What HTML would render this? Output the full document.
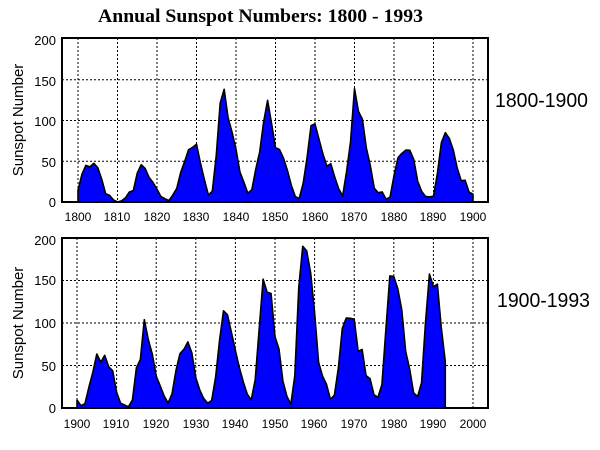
<!DOCTYPE html>
<html><head><style>
html,body{margin:0;padding:0;background:#fff;}
svg{display:block;}
</style></head><body>
<svg id="s" width="600" height="450" xmlns="http://www.w3.org/2000/svg" font-family="Liberation Sans, sans-serif">
<text x="98" y="22" font-family="Liberation Serif, serif" font-weight="bold" font-size="19" textLength="325" lengthAdjust="spacingAndGlyphs">Annual Sunspot Numbers: 1800 - 1993</text>
<text x="495" y="107" font-size="20" textLength="93" lengthAdjust="spacingAndGlyphs">1800-1900</text>
<text x="497" y="307" font-size="20" textLength="93" lengthAdjust="spacingAndGlyphs">1900-1993</text>
<g font-size="13" text-anchor="end">
<text x="56" y="45">200</text><text x="56" y="86">150</text><text x="56" y="126">100</text><text x="56" y="167">50</text><text x="56" y="207">0</text>
<text x="56" y="245">200</text><text x="56" y="285">150</text><text x="56" y="328">100</text><text x="56" y="371">50</text><text x="56" y="413">0</text>
</g>
<g font-size="12" text-anchor="middle">
<text x="78" y="221">1800</text><text x="117" y="221">1810</text><text x="157" y="221">1820</text><text x="196" y="221">1830</text><text x="236" y="221">1840</text><text x="275" y="221">1850</text><text x="315" y="221">1860</text><text x="354" y="221">1870</text><text x="394" y="221">1880</text><text x="433" y="221">1890</text><text x="473" y="221">1900</text>
<text x="77" y="428">1900</text><text x="116" y="428">1910</text><text x="156" y="428">1920</text><text x="196" y="428">1930</text><text x="235" y="428">1940</text><text x="275" y="428">1950</text><text x="314" y="428">1960</text><text x="354" y="428">1970</text><text x="394" y="428">1980</text><text x="433" y="428">1990</text><text x="473" y="428">2000</text>
</g>
<text transform="translate(23,120) rotate(-90)" font-size="15" text-anchor="middle">Sunspot Number</text>
<text transform="translate(23,323) rotate(-90)" font-size="15" text-anchor="middle">Sunspot Number</text>
<g id="g"></g>
</svg>
<script>
var d=[14.5,34.0,45.0,43.1,47.5,42.2,28.1,10.1,8.1,2.5,0.0,1.4,5.0,12.2,13.9,35.4,45.8,41.1,30.1,23.9,15.6,6.6,4.0,1.8,8.5,16.6,36.3,49.6,64.2,67.0,70.9,47.8,27.5,8.5,13.2,56.9,121.5,138.3,103.2,85.7,64.6,36.7,24.2,10.7,15.0,40.1,61.5,98.5,124.7,96.3,66.6,64.5,54.1,39.0,20.6,6.7,4.3,22.7,54.8,93.8,95.8,77.2,59.1,44.0,47.0,30.5,16.3,7.3,37.6,74.0,139.0,111.2,101.6,66.2,44.7,17.0,11.3,12.4,3.4,6.0,32.3,54.3,59.7,63.7,63.5,52.2,25.4,13.1,6.8,6.3,7.1,35.6,73.0,85.1,78.0,64.0,41.8,26.2,26.7,12.1,9.5,2.7,5.0,24.4,42.0,63.5,53.8,62.0,48.5,43.9,18.6,5.7,3.6,1.4,9.6,47.4,57.1,103.9,80.6,63.6,37.6,26.1,14.2,5.8,16.7,44.3,63.9,69.0,77.8,64.9,35.7,21.2,11.1,5.7,8.7,36.1,79.7,114.4,109.6,88.8,67.8,47.5,30.6,16.3,9.6,33.2,92.6,151.6,136.3,134.7,83.9,69.4,31.5,13.9,4.4,38.0,141.7,190.2,184.8,159.0,112.3,53.9,37.5,27.9,10.2,15.1,47.0,93.8,105.9,105.5,104.5,66.6,68.9,38.0,34.5,15.5,12.6,27.5,92.5,155.4,154.6,140.4,115.9,66.6,45.9,17.9,13.4,29.4,100.2,157.6,142.6,145.7,94.3,54.6];
var h='';
function panel(L,T,R,B,x0,dx,y0,sy,ys,y1){
  // grid
  for(var k=0;k<=10;k++){var x=x0+k*dx;h+='<line x1="'+x+'" y1="'+T+'" x2="'+x+'" y2="'+B+'" stroke="#000" stroke-width="1" stroke-dasharray="2,2"/>';}
  for(var v=50;v<200;v+=50){var y=y0-v*sy;h+='<line x1="'+L+'" y1="'+y+'" x2="'+R+'" y2="'+y+'" stroke="#000" stroke-width="1" stroke-dasharray="2,2"/>';}
  var p=[];var xs=x0;p.push(xs+','+y0);
  for(var yr=ys;yr<=y1;yr++){p.push((x0+(yr-ys)*dx/10)+','+(y0-d[yr-1800]*sy));}
  p.push((x0+(y1-ys)*dx/10)+','+y0);
  h+='<polygon points="'+p.join(' ')+'" fill="#0000ff" stroke="#000" stroke-width="1.6" stroke-linejoin="round"/>';
  h+='<rect x="'+L+'" y="'+T+'" width="'+(R-L)+'" height="'+(B-T)+'" fill="none" stroke="#000" stroke-width="2"/>';
}
panel(62,38,488,202,78,39.5,202,0.815,1800,1900);
panel(62,238,488,408,77,39.6,408,0.85,1900,1993);
document.getElementById('g').innerHTML=h;
</script>
</body></html>
